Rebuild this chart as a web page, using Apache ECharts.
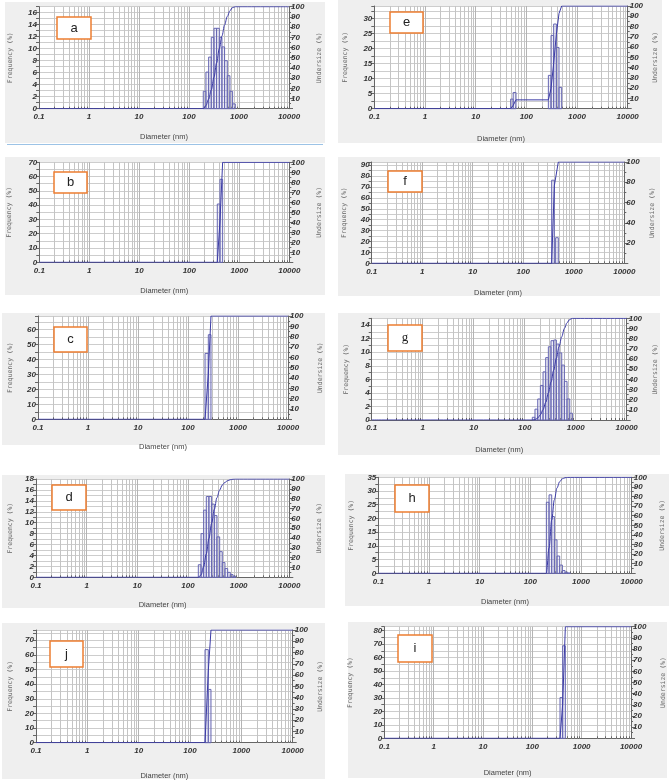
<!DOCTYPE html>
<html>
<head>
<meta charset="utf-8">
<script src="https://cdn.jsdelivr.net/npm/echarts@6/dist/echarts.min.js"></script>
<style>
html, body { margin: 0; padding: 0; background: #fff; }
#sizeDist { width: 669px; height: 781px; }
</style>
</head>
<body>
<div id="sizeDist"></div>
<script>
// minor log grid lines (2..9 in every decade)
const minorTicks = [0.2, 0.3, 0.4, 0.5, 0.6, 0.7, 0.8, 0.9,
  2, 3, 4, 5, 6, 7, 8, 9,
  20, 30, 40, 50, 60, 70, 80, 90,
  200, 300, 400, 500, 600, 700, 800, 900,
  2000, 3000, 4000, 5000, 6000, 7000, 8000, 9000];

// bin edges (nm), frequency (%) per bin, undersize (%) at each edge
const binsA = [193, 218, 247, 279, 316, 356, 404, 456, 515, 583, 659, 745, 843];
const freqA = [2.9, 6.1, 8.6, 11.9, 13.4, 13.4, 11.9, 10.3, 8.0, 5.5, 2.9, 0.8];
const underA = [0, 3.0, 9.4, 18.4, 30.8, 44.8, 58.9, 71.3, 82.1, 90.4, 96.1, 99.2, 100];

const binsE = [49, 55, 62.5, 272, 307, 346, 391, 441, 498];
const freqE = [3.2, 5.4, 0, 11.1, 24.4, 28.2, 20.4, 7.1];
const underE = [0, 3.2, 8.6, 8.6, 19.7, 44.1, 72.3, 92.7, 100];

const binsB = [363, 411, 464];
const freqB = [40.8, 58.1];
const underB = [0, 41.3, 100];

const binsF = [365, 412, 437, 494];
const freqF = [76.3, 0, 23.5];
const underF = [0, 76.5, 76.5, 100];

const binsC = [219, 255, 288];
const freqC = [44.0, 56.5];
const underC = [0, 43.8, 100];

const binsG = [141, 159, 180, 203, 229, 258, 291, 328, 371, 418, 471, 532, 600, 676, 764, 861];
const freqG = [0.4, 1.6, 3.1, 5.1, 7.1, 9.2, 10.8, 11.7, 11.8, 11.2, 9.9, 8.1, 5.7, 3.1, 1.0];
const underG = [0, 0.4, 2.0, 5.1, 10.2, 17.3, 26.5, 37.3, 49.0, 60.8, 72.0, 81.9, 90.0, 95.7, 98.8, 100];

const binsD = [160, 181, 204, 230, 259, 293, 331, 373, 422, 475, 537, 607, 684, 773, 873];
const freqD = [2.3, 8.0, 12.3, 14.8, 14.8, 13.4, 11.3, 7.4, 4.7, 2.7, 1.6, 0.9, 0.5, 0.2];
const underD = [0, 2.4, 10.9, 23.8, 39.4, 55.0, 69.1, 81.0, 88.8, 93.8, 96.6, 98.3, 99.3, 99.8, 100];

const binsH = [207, 234, 264, 298, 336, 379, 429, 483, 546, 615];
const freqH = [25.9, 28.6, 20.7, 12.2, 6.3, 3.0, 1.0, 0.4, 0.1];
const underH = [0, 26.4, 55.5, 76.6, 89.0, 95.4, 98.5, 99.5, 99.9, 100];

const binsJ = [196, 227, 256];
const freqJ = [63.6, 36.4];
const underJ = [0, 63.6, 100];

const binsI = [364, 412, 467];
const freqI = [30.3, 68.8];
const underI = [0, 30.6, 100];

// layout of the ten panels (pixels)
const panels = [
  { letter: 'a', bins: binsA, freq: freqA, under: underA, smooth: true,
    grid: [39, 6.7, 250, 102], yMax: 17, yStep: 2, rStep: 10, gapL: 25, gapR: 27, gapX: 24,
    bg: [5, 2, 320, 141], box: [57, 17, 34, 22] },
  { letter: 'e', bins: binsE, freq: freqE, under: underE, smooth: false,
    grid: [374.3, 6, 253.4, 102.7], yMax: 34.2, yStep: 5, rStep: 10, gapL: 25, gapR: 24, gapX: 26,
    bg: [338, 0, 324, 143], box: [390, 12, 33, 21] },
  { letter: 'b', bins: binsB, freq: freqB, under: underB, smooth: false,
    grid: [39.3, 162.3, 250, 100], yMax: 70, yStep: 10, rStep: 10, gapL: 26, gapR: 27, gapX: 25,
    bg: [5, 157, 320, 138], box: [54, 172, 33, 21] },
  { letter: 'f', bins: binsF, freq: freqF, under: underF, smooth: false,
    grid: [371.7, 162, 252.6, 101.3], yMax: 93, yStep: 10, rStep: 20, gapL: 24, gapR: 25, gapX: 26,
    bg: [338, 157, 322, 139], box: [388, 171, 34, 21] },
  { letter: 'c', bins: binsC, freq: freqC, under: underC, smooth: false,
    grid: [38, 316, 250, 103.3], yMax: 69, yStep: 10, rStep: 10, gapL: 24, gapR: 29, gapX: 24,
    bg: [2, 313, 323, 132], box: [54, 327, 33, 25] },
  { letter: 'g', bins: binsG, freq: freqG, under: underG, smooth: true, serif: true,
    grid: [371.7, 318.3, 255, 101.7], yMax: 15, yStep: 2, rStep: 10, gapL: 22, gapR: 25, gapX: 26,
    bg: [338, 313, 322, 142], box: [388, 325, 34, 26] },
  { letter: 'd', bins: binsD, freq: freqD, under: underD, smooth: true,
    grid: [36, 479, 253.3, 98.3], yMax: 18, yStep: 2, rStep: 10, gapL: 22, gapR: 27, gapX: 24,
    bg: [2, 475, 323, 133], box: [52, 485, 34, 25] },
  { letter: 'h', bins: binsH, freq: freqH, under: underH, smooth: true,
    grid: [378.3, 477.3, 253.4, 96], yMax: 35, yStep: 5, rStep: 10, gapL: 23, gapR: 27, gapX: 25,
    bg: [345, 474, 324, 132], box: [395, 485, 34, 27] },
  { letter: 'j', bins: binsJ, freq: freqJ, under: underJ, smooth: false,
    grid: [36, 630, 256.7, 112.7], yMax: 77, yStep: 10, rStep: 10, gapL: 22, gapR: 24, gapX: 29,
    bg: [2, 623, 323, 156], box: [50, 641, 33, 26] },
  { letter: 'i', bins: binsI, freq: freqI, under: underI, smooth: false,
    grid: [384.3, 626.7, 246.7, 111.6], yMax: 83, yStep: 10, rStep: 10, gapL: 30, gapR: 29, gapX: 31,
    bg: [348, 622, 319, 156], box: [398, 635, 34, 27] }
];

var chartDom = document.getElementById('sizeDist');
var myChart = echarts.init(chartDom);
var option;

const tickFont = { fontSize: 8, fontStyle: 'italic', fontWeight: 'bold', color: '#333', fontFamily: 'Liberation Sans' };
const yNameFont = { fontSize: 6.5, color: '#666', fontFamily: 'DejaVu Sans Mono' };
const xNameFont = { fontSize: 7.5, color: '#444', fontFamily: 'Liberation Sans' };

function renderMinor(params, api) {
  const cs = params.coordSys;
  const x = Math.round(api.coord([api.value(0), 0])[0]) + 0.5;
  return {
    type: 'group',
    children: [
      { type: 'line', shape: { x1: x, y1: cs.y, x2: x, y2: cs.y + cs.height },
        style: { stroke: '#c4c4c4', lineWidth: 1 } },
      { type: 'line', shape: { x1: x, y1: cs.y + cs.height, x2: x, y2: cs.y + cs.height - 2 },
        style: { stroke: '#666', lineWidth: 1 } }
    ]
  };
}

function renderBar(params, api) {
  if (!api.value(2)) return null;
  const p0 = api.coord([api.value(0), 0]);
  const p1 = api.coord([api.value(1), api.value(2)]);
  return {
    type: 'rect',
    shape: { x: p0[0], y: p1[1], width: p1[0] - p0[0], height: p0[1] - p1[1] },
    style: { fill: 'rgba(190,190,225,0.25)', stroke: '#6767b3', lineWidth: 1 }
  };
}

const grids = [], xAxes = [], yAxes = [], series = [], graphics = [];

panels.forEach(function (p, i) {
  grids.push({ left: p.grid[0], top: p.grid[1], width: p.grid[2], height: p.grid[3],
    show: true, backgroundColor: '#fff', borderWidth: 0 });

  xAxes.push({
    gridIndex: i, type: 'log', logBase: 10, min: 0.1, max: 10000,
    name: 'Diameter (nm)', nameLocation: 'middle', nameGap: p.gapX, nameTextStyle: xNameFont,
    axisLine: { show: true, lineStyle: { color: '#666' } },
    axisTick: { show: false },
    splitLine: { show: true, lineStyle: { color: '#b4b4b4' } },
    axisLabel: Object.assign({ margin: 4, formatter: function (v) { return String(+Number(v).toPrecision(6)); } }, tickFont)
  });

  yAxes.push({
    gridIndex: i, type: 'value', position: 'left', min: 0, max: p.yMax, interval: p.yStep / 2,
    name: 'Frequency (%)', nameLocation: 'middle', nameRotate: 90, nameGap: p.gapL, nameTextStyle: yNameFont,
    axisLine: { show: true, lineStyle: { color: '#666' } },
    axisTick: { show: true, length: 3, lineStyle: { color: '#666' } },
    splitLine: { show: true, lineStyle: { color: '#cdcdcd' } },
    axisLabel: Object.assign({ margin: 2, formatter: function (v) {
      return Math.abs(v / p.yStep - Math.round(v / p.yStep)) < 1e-6 ? String(v) : '';
    } }, tickFont)
  });

  yAxes.push({
    gridIndex: i, type: 'value', position: 'right', min: 0, max: 100, interval: p.rStep,
    name: 'Undersize (%)', nameLocation: 'middle', nameRotate: 90, nameGap: p.gapR, nameTextStyle: yNameFont,
    axisLine: { show: true, lineStyle: { color: '#666' } },
    axisTick: { show: true, length: 4, lineStyle: { color: '#666' } },
    minorTick: { show: true, splitNumber: 2, length: 2, lineStyle: { color: '#666' } },
    splitLine: { show: false },
    axisLabel: Object.assign({ margin: 2, formatter: function (v) { return v === 0 ? '' : String(v); } }, tickFont)
  });

  series.push({
    type: 'custom', xAxisIndex: i, yAxisIndex: 2 * i, silent: true, z: 1,
    renderItem: renderMinor,
    encode: { x: 0, y: 1 },
    data: minorTicks.map(function (t) { return [t, 0]; })
  });

  series.push({
    type: 'custom', xAxisIndex: i, yAxisIndex: 2 * i, silent: true, z: 3,
    renderItem: renderBar,
    encode: { x: [0, 1], y: 2 },
    data: p.freq.map(function (v, k) { return [p.bins[k], p.bins[k + 1], v]; })
  });

  const curve = [[0.1, 0]];
  p.bins.forEach(function (b, k) { curve.push([b, p.under[k]]); });
  curve.push([10000, 100]);
  series.push({
    type: 'line', xAxisIndex: i, yAxisIndex: 2 * i + 1, silent: true, z: 4,
    showSymbol: false, smooth: p.smooth ? 0.35 : false, smoothMonotone: 'x',
    lineStyle: { color: '#3b3ba6', width: 1 },
    data: curve
  });

  graphics.push({ type: 'rect', z: -10, silent: true,
    shape: { x: p.bg[0], y: p.bg[1], width: p.bg[2], height: p.bg[3] },
    style: { fill: '#efefef' } });
  graphics.push({ type: 'rect', z: 100, silent: true,
    shape: { x: p.box[0], y: p.box[1], width: p.box[2], height: p.box[3] },
    style: { fill: '#fff', stroke: '#ed7d31', lineWidth: 1.5 } });
  graphics.push({ type: 'text', z: 101, silent: true,
    x: p.box[0] + p.box[2] / 2, y: p.box[1] + p.box[3] / 2,
    style: { text: p.letter, fill: '#222', fontSize: 13,
      fontFamily: p.serif ? 'Liberation Serif' : 'Liberation Sans',
      align: 'center', verticalAlign: 'middle', textAlign: 'center', textVerticalAlign: 'middle' } });
});

// thin blue rule under panel a
graphics.push({ type: 'line', z: -5, silent: true,
  shape: { x1: 7, y1: 144.5, x2: 323, y2: 144.5 },
  style: { stroke: '#9cc3e6', lineWidth: 1 } });

option = {
  backgroundColor: '#fff',
  animation: false,
  grid: grids,
  xAxis: xAxes,
  yAxis: yAxes,
  series: series,
  graphic: { elements: graphics }
};

option && myChart.setOption(option);
</script>
</body>
</html>
